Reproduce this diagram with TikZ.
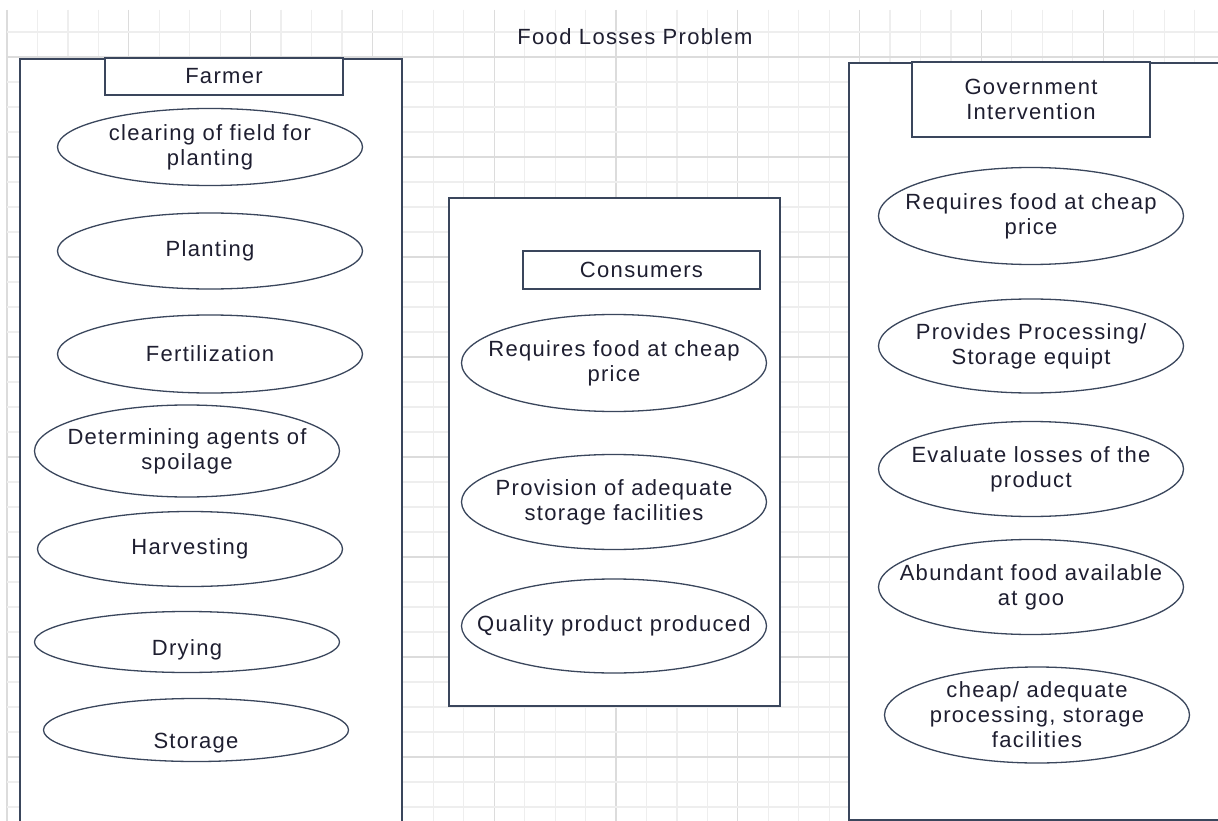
\documentclass[tikz,border=0pt]{standalone}
\usepackage{fontspec}
\setmainfont{Liberation Sans}[LetterSpace=6]
\usetikzlibrary{shapes.geometric}

\definecolor{gridminor}{HTML}{EEEEEE}
\definecolor{gridmajor}{HTML}{DCDCDC}
\definecolor{edge}{HTML}{3A465C}
\definecolor{ink}{HTML}{1E1E30}

\tikzset{
  panel/.style={draw=edge, line width=1.6pt, fill=white, rectangle, inner sep=0pt, anchor=north west},
  tag/.style={draw=edge, line width=1.4pt, fill=white, rectangle, inner sep=0pt, text=ink, align=center,
              font=\fontsize{22}{25}\selectfont},
  oval/.style={draw=edge, line width=1.3pt, fill=white, ellipse, inner sep=0pt,
               minimum width=305pt, minimum height=#1},
  oval/.default=95pt,
  lbl/.style={text=ink, align=center, inner sep=0pt, font=\fontsize{22}{25}\selectfont},
  heading/.style={text=ink, inner sep=0pt, font=\fontsize{22}{25}\selectfont}
}

\begin{document}
\begin{tikzpicture}[x=1pt, y=-1pt]
  \useasboundingbox (0,0) rectangle (1218,821);
  \clip (0,0) rectangle (1218,821);
  \fill[white] (0,0) rectangle (1218,821);

  % background grid: a darker line every fourth cell
  \foreach \k in {0,...,39} {
    \pgfmathsetmacro\xx{7+30.45*\k}
    \pgfmathtruncatemacro\m{mod(\k,4)}
    \ifnum\m=0
      \draw[gridmajor, line width=1.2pt] (\xx,10) -- (\xx,821);
    \else
      \draw[gridminor, line width=1.2pt] (\xx,10) -- (\xx,821);
    \fi
  }
  \foreach \k in {1,...,32} {
    \pgfmathsetmacro\yy{7+25*\k}
    \pgfmathtruncatemacro\m{mod(\k,4)}
    \ifnum\m=2
      \draw[gridmajor, line width=1.2pt] (7,\yy) -- (1218,\yy);
    \else
      \draw[gridminor, line width=1.2pt] (7,\yy) -- (1218,\yy);
    \fi
  }

  % title
  \node[heading] (title) at (635,37) {Food Losses Problem};

  % Farmer column
  \node[panel, minimum width=382pt, minimum height=800pt] (farmer) at (19,58) {};
  \node[tag, minimum width=238pt, minimum height=37pt] (farmertag) at (224,76.5) {Farmer};
  \node[oval=77pt, label={[lbl]center:clearing of field for\\planting}] (f1) at (210,147) {};
  \node[oval=76pt, label={[lbl]center:Planting}] (f2) at (210,251) {};
  \node[oval=78pt, label={[lbl]center:Fertilization}] (f3) at (210,354) {};
  \node[oval=92pt, label={[lbl]center:Determining agents of\\spoilage}] (f4) at (187,451) {};
  \node[oval=75pt, label={[lbl]center:Harvesting}] (f5) at (190,549) {};
  \node[oval=61pt, label={[lbl, yshift=-8pt]center:Drying}] (f6) at (187,642) {};
  \node[oval=63pt, label={[lbl, yshift=-13pt]center:Storage}] (f7) at (196,730) {};

  % Consumers column
  \node[panel, minimum width=331pt, minimum height=508pt] (consumers) at (448,197) {};
  \node[tag, minimum width=237pt, minimum height=38pt] (consumerstag) at (641.5,270) {Consumers};
  \node[oval=97pt, label={[lbl]center:Requires food at cheap\\price}] (c1) at (614,363) {};
  \node[oval=95pt, label={[lbl]center:Provision of adequate\\storage facilities}] (c2) at (614,502) {};
  \node[oval=94pt, label={[lbl]center:Quality product produced}] (c3) at (614,626) {};

  % Government column
  \node[panel, minimum width=400pt, minimum height=757pt] (government) at (848,62) {};
  \node[tag, minimum width=238pt, minimum height=75pt] (governmenttag) at (1031,99.5) {Government\\Intervention};
  \node[oval=97pt, label={[lbl]center:Requires food at cheap\\price}] (g1) at (1031,216) {};
  \node[oval=94pt, label={[lbl]center:Provides Processing/\\Storage equipt}] (g2) at (1031,346) {};
  \node[oval=95pt, label={[lbl]center:Evaluate losses of the\\product}] (g3) at (1031,469) {};
  \node[oval=95pt, label={[lbl]center:Abundant food available\\at goo}] (g4) at (1031,587) {};
  \node[oval=96pt, label={[lbl]center:cheap/ adequate\\processing, storage\\facilities}] (g5) at (1037,715) {};
\end{tikzpicture}
\end{document}
